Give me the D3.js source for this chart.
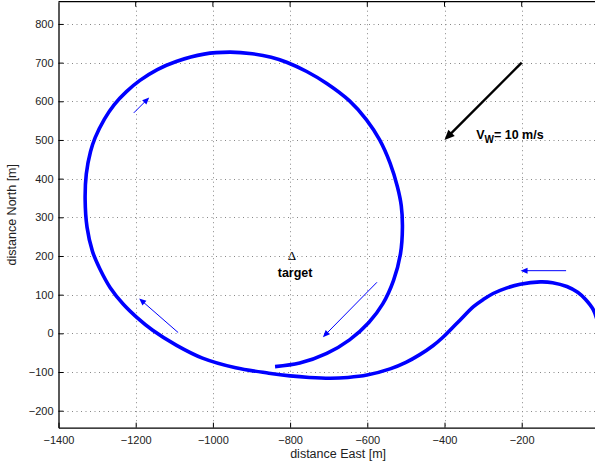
<!DOCTYPE html>
<html>
<head>
<meta charset="utf-8">
<script src="https://cdn.jsdelivr.net/npm/d3@7"></script>
<style>
  body { margin: 0; background: #fff; }
  svg { display: block; font-family: "Liberation Sans", Arial, Helvetica, sans-serif; }
</style>
</head>
<body>
<div id="chart"></div>
<script>
// flight track (East, North) in metres
const trackEast = [-839, -775, -705, -646, -596, -560, -532, -514, -509, -512, -522, -541, -568, -602, -646, -705, -757, -809, -849, -898, -956, -1023, -1095, -1144, -1189, -1224, -1256, -1281, -1305, -1317, -1328, -1331, -1326, -1312, -1293, -1266, -1232, -1198, -1156, -1094, -1027, -941, -855, -800, -750, -696, -650, -601, -541, -500, -464, -430, -404, -380, -360, -325, -300, -274, -240, -204, -152, -120, -83, -55, -35, -14, -2];
const trackNorth = [-86, -77, -52, -17, 28, 76, 137, 206, 274, 330, 379, 440, 500, 552, 601, 646, 677, 701, 714, 723, 727, 722, 703, 682, 654, 625, 591, 554, 506, 470, 412, 346, 274, 212, 167, 118, 75, 42, 8, -31, -64, -89, -103, -110, -114, -116, -114, -108, -92, -75, -55, -32, -10, 14, 34, 69, 87, 103, 117, 127, 133, 131, 121, 106, 88, 60, 25];

// small direction arrows along the track
const dirFromE = [-1205, -1090, -575, -85];
const dirFromN = [570, 2, 132, 162];
const dirToE = [-1165, -1191, -715, -203];
const dirToN = [610, 90, -10, 162];

// wind arrow
const windFrom = [-200, 700];
const windTo = [-400, 500];

const xTicks = [-1400, -1200, -1000, -800, -600, -400, -200];
const yTicks = [-200, -100, 0, 100, 200, 300, 400, 500, 600, 700, 800];

const W = 595, H = 466;
const x = d3.scaleLinear().domain([-1400, 0]).range([58.5, 598.9]);
const y = d3.scaleLinear().domain([-244, 857.5]).range([427.7, 1.7]);

const svg = d3.select("#chart").append("svg")
  .attr("width", W).attr("height", H);

const x0 = x.range()[0], x1 = x.range()[1];
const yB = y.range()[0], yT = y.range()[1];

// grid
const grid = svg.append("g")
  .attr("stroke", "#888").attr("stroke-width", 1)
  .attr("stroke-dasharray", "1,3.5");
grid.selectAll(".gx").data(xTicks.slice(1)).join("line")
  .attr("x1", d => Math.round(x(d)) + 0.5).attr("x2", d => Math.round(x(d)) + 0.5)
  .attr("y1", yT).attr("y2", yB);
grid.selectAll(".gy").data(yTicks).join("line")
  .attr("y1", d => Math.round(y(d)) + 0.5).attr("y2", d => Math.round(y(d)) + 0.5)
  .attr("x1", x0).attr("x2", x1);

// axes (MATLAB style: ticks inward)
const ax = svg.append("g")
  .attr("transform", `translate(0,${yB})`)
  .call(d3.axisBottom(x).tickValues(xTicks).tickSizeInner(-5).tickSizeOuter(0)
    .tickFormat(d => String(d).replace("-", "\u2212")));
ax.selectAll("text").attr("dy", "0.71em").attr("y", 9);

const ay = svg.append("g")
  .attr("transform", `translate(${x0},0)`)
  .call(d3.axisLeft(y).tickValues(yTicks).tickSizeInner(-5).tickSizeOuter(0)
    .tickFormat(d => String(d).replace("-", "\u2212")));
ay.selectAll("text").attr("x", -5);

svg.selectAll(".domain").attr("stroke", "#000").attr("stroke-width", 1.3);
svg.selectAll(".tick line").attr("stroke", "#000");
svg.selectAll(".tick text").style("font-size", "11px").attr("fill", "#222");

// top box line
svg.append("line").attr("x1", x0).attr("x2", x1).attr("y1", yT).attr("y2", yT)
  .attr("stroke", "#000").attr("stroke-width", 1.3);
svg.append("g").selectAll("line").data(xTicks.slice(1)).join("line")
  .attr("x1", d => x(d)).attr("x2", d => x(d))
  .attr("y1", yT).attr("y2", yT + 5).attr("stroke", "#000");

// track
const pts = trackEast.map((e, i) => [e, trackNorth[i]]);
svg.append("path")
  .datum(pts)
  .attr("fill", "none")
  .attr("stroke", "#0000ff")
  .attr("stroke-width", 3.6)
  .attr("d", d3.line().x(d => x(d[0])).y(d => y(d[1])).curve(d3.curveCatmullRom.alpha(0.5)));

// arrow helper
function arrow(p0, p1, color, width, headLen, headW) {
  const ax0 = x(p0[0]), ay0 = y(p0[1]), ax1 = x(p1[0]), ay1 = y(p1[1]);
  const dx = ax1 - ax0, dy = ay1 - ay0, L = Math.hypot(dx, dy);
  const ux = dx / L, uy = dy / L;
  const bx = ax1 - ux * headLen, by = ay1 - uy * headLen;
  svg.append("line")
    .attr("x1", ax0).attr("y1", ay0).attr("x2", bx + ux).attr("y2", by + uy)
    .attr("stroke", color).attr("stroke-width", width);
  svg.append("path")
    .attr("d", `M${ax1},${ay1}L${bx - uy * headW / 2},${by + ux * headW / 2}L${bx + uy * headW / 2},${by - ux * headW / 2}Z`)
    .attr("fill", color);
}

dirFromE.forEach((e, i) => {
  arrow([e, dirFromN[i]], [dirToE[i], dirToN[i]], "#0000ff", 1, 7, 6);
});
arrow(windFrom, windTo, "#000", 2.4, 10, 9);

// wind label
const vt = svg.append("text")
  .attr("x", x(-318)).attr("y", y(500) - 1)
  .style("font-size", "12.5px").style("font-weight", "bold");
vt.append("tspan").text("V");
vt.append("tspan").attr("dy", 4).style("font-size", "10px").text("W");
vt.append("tspan").attr("dy", -4).text("= 10 m/s");

// target marker
svg.append("text")
  .attr("x", x(-795)).attr("y", y(200) + 4)
  .attr("text-anchor", "middle")
  .style("font-family", "'Liberation Serif', 'DejaVu Serif', serif")
  .style("font-size", "13px")
  .text("\u0394");
svg.append("text")
  .attr("x", x(-787)).attr("y", y(157) + 4)
  .attr("text-anchor", "middle")
  .style("font-size", "12.5px").style("font-weight", "bold")
  .text("target");

// axis labels
svg.append("text")
  .attr("x", (x(-1400) + x(-200)) / 2 + 48).attr("y", 458)
  .attr("text-anchor", "middle")
  .style("font-size", "12.5px").attr("fill", "#222")
  .text("distance East [m]");

svg.append("text")
  .attr("transform", `translate(16,${(yT + yB) / 2}) rotate(-90)`)
  .attr("text-anchor", "middle")
  .style("font-size", "12.5px").attr("fill", "#222")
  .text("distance North [m]");
</script>
</body>
</html>
